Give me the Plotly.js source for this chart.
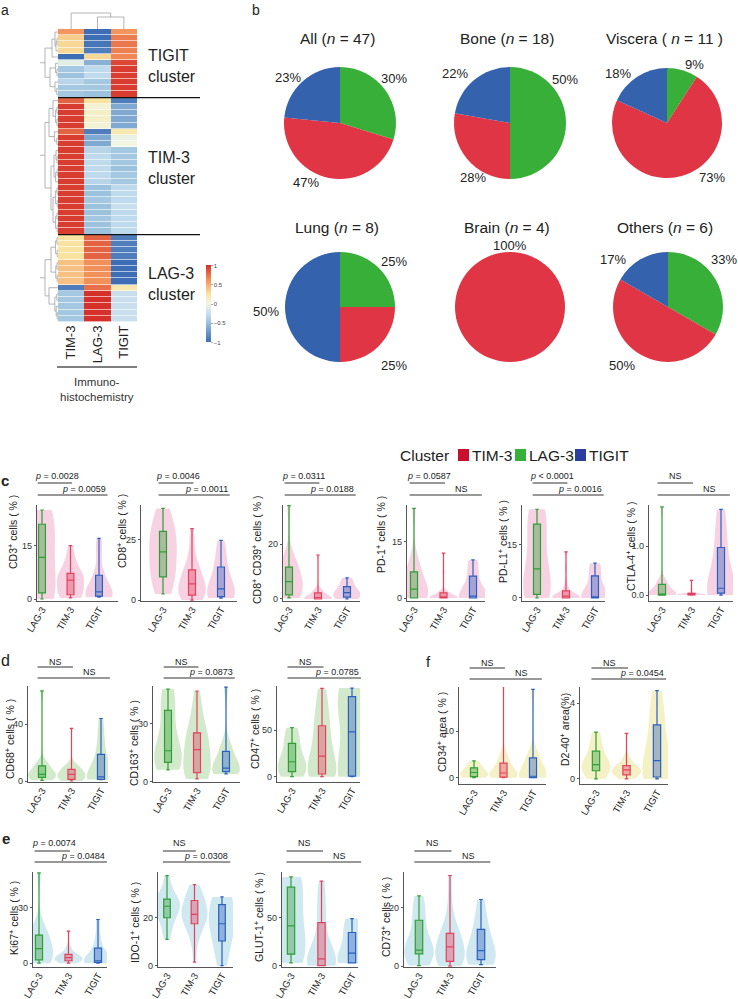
<!DOCTYPE html>
<html>
<head>
<meta charset="utf-8">
<script src="https://cdn.plot.ly/plotly-3.0.1.min.js"></script>
<style>
body { margin: 0; background: #fff; }
#fig { width: 738px; height: 999px; }
</style>
</head>
<body>
<div id="fig"></div>
<script>
// ---------- panel a : heatmap (rows top to bottom, cols TIM-3 / LAG-3 / TIGIT)
heat_cols = ["TIM-3", "LAG-3", "TIGIT"]
heat_z = [
  [0.6, -1, 0.6], [0.35, -1, 0.7], [0.3, -0.95, 0.72], [0.3, -0.9, 0.68], [-1, 0.3, 0.65],
  [-0.1, -0.6, 0.9], [-0.45, -0.3, 0.95], [-0.5, -0.3, 0.95], [-0.35, -0.45, 0.95], [-0.45, -0.45, 0.95],
  [-0.45, -0.5, 0.95],
  [0.8, 0.25, -0.9], [0.95, 0.05, -0.65], [0.95, 0.1, -0.65], [0.95, 0.1, -0.65], [0.95, 0.05, -0.65],
  [0.8, -0.9, 0.2], [0.95, -0.65, -0.05], [0.95, -0.65, 0], [0.95, -0.35, -0.45], [0.95, -0.3, -0.45],
  [0.95, -0.3, -0.45], [0.95, -0.3, -0.5], [0.95, -0.3, -0.45], [0.95, -0.35, -0.45], [0.95, -0.5, -0.3],
  [0.95, -0.5, -0.3], [0.95, -0.45, -0.3], [0.95, -0.5, -0.25], [0.95, -0.5, -0.3], [0.95, -0.45, -0.3],
  [0.95, -0.5, -0.3], [0.95, -0.5, -0.3],
  [0.25, 0.8, -0.9], [0.25, 0.8, -0.9], [0.25, 0.8, -0.9], [0.25, 0.8, -0.9], [0.4, 0.62, -1],
  [0.4, 0.62, -1], [0.4, 0.62, -1], [0.4, 0.62, -1], [-0.9, 0.75, 0.2], [-0.45, 1, -0.25],
  [-0.45, 1, -0.25], [-0.45, 1, -0.25], [-0.45, 1, -0.25], [-0.45, 1, -0.25]
]
cluster_names = ["TIGIT", "TIM-3", "LAG-3"]
cluster_ends = [10.5, 32.5]
// dendrogram trees: [height, left, right], leaves are row numbers
row_trees = [
  [6.5, [3, [1.5, 0, [1, [0.5, 1, 2], 3]], 4], [4, [1.2, 5, [0.5, 6, 7]], [1.5, 8, [0.6, 9, 10]]]],
  [6.5, [4.5, [2.5, 11, [1.2, [0.5, 12, 13], [0.5, 14, 15]]], [1.8, 16, [0.6, 17, 18]]],
        [3.5, [2, [1, 19, [0.5, 20, 21]], [1.2, [0.4, 22, 23], 24]],
              [2.5, [1.3, [0.5, 25, 26], [0.4, 27, 28]], [1.2, [0.5, 29, 30], [0.4, 31, 32]]]]],
  [6.5, [3.5, [1.3, [0.5, 33, 34], [0.4, 35, 36]], [1.1, [0.5, 37, 38], [0.4, 39, 40]]],
        [4.5, 41, [1.6, [0.6, 42, 43], [0.9, 44, [0.4, 45, 46]]]]]
]
col_tree = [16, 0, [12, 1, 2]]

// ---------- panel b : pies
pie_titles = ["All (<i>n</i> = 47)", "Bone (<i>n</i> = 18)", "Viscera ( <i>n</i> = 11 )",
              "Lung (<i>n</i> = 8)", "Brain (<i>n</i> = 4)", "Others (<i>n</i> = 6)"]
pie_labels = ["LAG-3", "TIM-3", "TIGIT"]
pie_lag3 = [14, 9, 1, 2, 0, 2]
pie_tim3 = [22, 5, 8, 2, 4, 3]
pie_tigit = [11, 4, 2, 4, 0, 1]
legend_labels = ["TIM-3", "LAG-3", "TIGIT"]

// ---------- panels c-f : violins
groups = ["LAG-3", "TIM-3", "TIGIT"]
cd3_lag = [0, 0.5, 1.2, 1.7, 4, 8, 11, 12.4, 15, 18, 21, 22.5, 24, 25]
cd3_tim = [0.3, 0.5, 0.7, 0.9, 1.0, 1.2, 2, 3, 3.8, 4.5, 5, 5.6, 6, 6.3, 6.6, 7, 7.2, 8.5, 9.5, 11, 13, 15]
cd3_tig = [0.5, 0.6, 0.8, 0.8, 1.2, 2, 3, 6, 6.9, 13, 17]
cd8_lag = [2.5, 5, 8, 9.6, 13, 16, 19, 21, 23, 26, 28.5, 31, 34, 38]
cd8_tim = [0, 0.5, 1, 1.3, 1.7, 2, 2.8, 3.5, 4.5, 5.5, 6.3, 7.1, 8, 9, 10, 11.2, 12.5, 14, 16, 19, 25, 29.6]
cd8_tig = [0.8, 1.1, 1.3, 1.7, 3, 4.6, 7, 11, 14.6, 19, 24.7]
cd39_lag = [0.4, 0.8, 1.2, 1.5, 3, 4.5, 5.8, 6.8, 8, 10, 11.6, 13, 15, 34]
cd39_tim = [0, 0, 0, 0, 0, 0, 0.1, 0.2, 0.3, 0.4, 0.5, 0.6, 0.9, 1.2, 1.5, 1.9, 2.2, 2.6, 3, 3.5, 4, 16]
cd39_tig = [0, 0.3, 0.6, 1, 1.6, 2.3, 3, 4, 4.7, 7, 7.7]
pd1_lag = [0, 0, 0, 0, 0.5, 1.2, 2, 2.8, 4, 5.5, 7, 8.5, 10.7, 24]
pd1_tim = [0, 0, 0, 0, 0, 0, 0, 0.1, 0.2, 0.2, 0.3, 0.3, 0.4, 0.6, 0.8, 1.1, 1.4, 1.6, 1.8, 2, 7, 12]
pd1_tig = [0, 0, 0, 0, 0.2, 0.5, 1.5, 4, 6.5, 9, 10.2]
pdl1_lag = [0, 0.3, 0.6, 1, 2.5, 5, 7.4, 9, 13, 17, 20.8, 22.5, 24, 25]
pdl1_tim = [0, 0, 0, 0, 0, 0, 0.1, 0.2, 0.3, 0.4, 0.5, 0.5, 0.7, 0.9, 1.2, 1.6, 2, 2.6, 3.3, 5, 8.5, 13]
pdl1_tig = [0, 0, 0, 0, 0.1, 0.3, 1.5, 4.5, 6.8, 8.5, 9.8]
ctla4_lag = [0, 0, 0, 0, 0, 0, 0.01, 0.03, 0.06, 0.12, 0.22, 0.26, 0.3, 1.8]
ctla4_tim = [0, 0, 0, 0, 0, 0.005, 0.008, 0.01, 0.012, 0.015, 0.018, 0.02, 0.022, 0.025, 0.028, 0.03, 0.035, 0.04, 0.05, 0.06, 0.12, 0.3]
ctla4_tig = [0, 0.02, 0.04, 0.04, 0.08, 0.14, 0.4, 0.8, 1.03, 1.4, 1.75]
cd68_lag = [0.5, 1, 2, 2.6, 3.5, 4.2, 4.5, 4.9, 6, 8, 10.6, 12, 13, 63.5]
cd68_tim = [0, 0.3, 0.6, 0.8, 1, 1.2, 2, 2.8, 3.5, 4, 4.5, 4.9, 5.5, 6.2, 7, 7.6, 8.2, 9, 10, 11, 11.7, 37]
cd68_tig = [1, 1.1, 1.2, 1.2, 2, 2.9, 5, 12, 21, 30, 44]
cd163_lag = [6.1, 8, 9, 10, 12, 14, 15, 17, 22, 30, 37, 41, 45, 48]
cd163_tim = [1.4, 2.5, 3.2, 3.8, 4.2, 4.7, 6, 8, 10, 13, 15.5, 17.7, 19, 20.5, 22, 23.5, 25.3, 28, 32, 36, 41, 47]
cd163_tig = [4, 4.8, 5, 5.8, 6.2, 7, 9, 14, 16.3, 19.5, 49]
cd47_lag = [0, 2, 4, 5.4, 8, 11, 14, 18, 22, 28, 35.7, 42, 48, 52.5]
cd47_tim = [0, 0.5, 1, 1.8, 2.4, 2.9, 4, 6, 9, 13, 18, 26, 32, 38, 44, 50, 54.6, 62, 70, 78, 87, 94.6]
cd47_tig = [0, 0, 0, 2, 15, 48, 70, 82, 87, 91, 95]
cd34_lag = [0, 0.05, 0.1, 0.2, 0.5, 0.8, 1, 1.2, 1.5, 1.8, 2.1, 2.6, 3.1, 3.6]
cd34_tim = [0, 0, 0.05, 0.05, 0.1, 0.1, 0.3, 0.5, 0.7, 0.8, 0.9, 1.1, 1.4, 1.8, 2.2, 2.7, 3.1, 3.6, 4.2, 4.9, 5.5, 19.7]
cd34_tig = [0, 0, 0, 0, 0.1, 0.3, 1, 3.5, 4.5, 4.6, 19]
d240_lag = [0, 0.2, 0.35, 0.43, 0.55, 0.65, 0.72, 0.78, 0.9, 1.2, 1.46, 1.8, 2.1, 2.47]
d240_tim = [0, 0.05, 0.1, 0.15, 0.18, 0.21, 0.28, 0.35, 0.4, 0.44, 0.47, 0.49, 0.52, 0.56, 0.6, 0.65, 0.7, 0.78, 0.9, 1.05, 1.2, 2.4]
d240_tig = [0, 0.05, 0.08, 0.16, 0.5, 0.96, 1.5, 2.4, 3, 3.8, 4.66]
ki67_lag = [0, 0.6, 1.2, 1.8, 3, 5, 7, 8.8, 10.5, 13, 15.2, 17.5, 19.7, 49]
ki67_tim = [0, 0.3, 0.6, 0.9, 1.1, 1.3, 1.7, 2, 2.3, 2.6, 2.9, 3.1, 3.4, 3.7, 4.1, 4.5, 4.8, 5.6, 6.5, 7.8, 9.3, 17.4]
ki67_tig = [0, 0.2, 0.3, 0.7, 1, 1.3, 3, 6, 8.8, 14.7, 23.7]
ido1_lag = [11, 15, 18, 20, 22, 23.5, 24.3, 25.3, 26, 27, 27.8, 29.5, 32.5, 37.6]
ido1_tim = [1.5, 9.4, 12, 14, 16, 17.5, 18.5, 19.5, 20.3, 20.8, 21.2, 21.6, 22.5, 23.5, 24.5, 26, 27.2, 28, 29, 30.5, 32, 33.8]
ido1_tig = [0, 5, 9, 14.2, 16, 17.5, 19, 24, 26, 28.2, 28.7]
glut1_lag = [2.8, 6, 9, 12, 20, 30, 38, 44.8, 55, 68, 81.7, 85, 89, 92.4]
glut1_tim = [0, 0, 0, 0, 0, 0, 1, 2, 3.5, 5, 6.2, 7.8, 10, 14, 20, 30, 44.8, 52, 60, 70, 80, 88]
glut1_tig = [2.8, 2.8, 2.8, 2.8, 6, 13, 20, 30, 36, 45, 49]
cd73_lag = [0.2, 2, 3.5, 4.2, 4.8, 5.2, 5.4, 5.6, 8, 12, 15.7, 18.5, 21, 24]
cd73_tim = [0, 0.5, 0.9, 1.2, 1.4, 1.6, 2.5, 3.5, 4.5, 5.5, 6.2, 7, 8, 9, 9.8, 10.5, 11.2, 13, 15, 18, 24.4, 31]
cd73_tig = [0.5, 1.2, 2, 2.8, 4, 5.3, 7, 11, 13.1, 17, 22.8]

panel_data = [
  [cd3_lag, cd3_tim, cd3_tig], [cd8_lag, cd8_tim, cd8_tig], [cd39_lag, cd39_tim, cd39_tig],
  [pd1_lag, pd1_tim, pd1_tig], [pdl1_lag, pdl1_tim, pdl1_tig], [ctla4_lag, ctla4_tim, ctla4_tig],
  [cd68_lag, cd68_tim, cd68_tig], [cd163_lag, cd163_tim, cd163_tig], [cd47_lag, cd47_tim, cd47_tig],
  [cd34_lag, cd34_tim, cd34_tig], [d240_lag, d240_tim, d240_tig],
  [ki67_lag, ki67_tim, ki67_tig], [ido1_lag, ido1_tim, ido1_tig], [glut1_lag, glut1_tim, glut1_tig],
  [cd73_lag, cd73_tim, cd73_tig]
]
panel_titles = ["CD3<sup>+</sup> cells ( % )", "CD8<sup>+</sup> cells ( % )", "CD8<sup>+</sup> CD39<sup>+</sup> cells ( % )",
  "PD-1<sup>+</sup> cells ( % )", "PD-L1<sup>+</sup> cells ( % )", "CTLA-4<sup>+</sup> cells ( % )",
  "CD68<sup>+</sup> cells ( % )", "CD163<sup>+</sup> cells ( % )", "CD47<sup>+</sup> cells ( % )",
  "CD34<sup>+</sup> area ( % )", "D2-40<sup>+</sup> area(%)",
  "Ki67<sup>+</sup> cells ( % )", "IDO-1<sup>+</sup> cells ( % )", "GLUT-1<sup>+</sup> cells ( % )", "CD73<sup>+</sup> cells ( % )"]
panel_ticks = [[0, 15], [0, 25], [0, 20], [0, 15], [0, 15], [0, 1], [0, 40], [0, 30], [0, 50], [0, 10], [0, 4],
  [0, 30], [0, 20], [0, 50], [0, 20]]
stat_short = ["p = 0.0028", "p = 0.0046", "p = 0.0311", "p = 0.0587", "p < 0.0001", "NS",
  "NS", "NS", "NS", "NS", "NS", "p = 0.0074", "NS", "NS", "NS"]
stat_long = ["p = 0.0059", "p = 0.0011", "p = 0.0188", "NS", "p = 0.0016", "NS",
  "NS", "p = 0.0873", "p = 0.0785", "NS", "p = 0.0454", "p = 0.0484", "p = 0.0308", "NS", "NS"]

// ---------- geometry and styles (pixels)
W = 738
H = 999
function px(v) { return v / W }
function py(v) { return 1 - v / H }
FONT = "Liberation Sans, Arial, sans-serif"
group_line = ["#2f9e36", "#e2425e", "#2b5fc0"]
group_fill = ["rgba(47,158,54,0.4)", "rgba(226,66,94,0.4)", "rgba(43,95,192,0.4)"]
pie_colors = {"LAG-3": "#38af38", "TIM-3": "#e03545", "TIGIT": "#3462ad"}
rows = {
  c: {t1: 476, l1: 483, t2: 489, l2: 495, top: 505, bot: 601, fill: "#f7d2e3"},
  d: {t1: 662, l1: 667, t2: 672, l2: 678, top: 686, bot: 782, fill: "#d2eacb"},
  f: {t1: 663, l1: 668, t2: 673, l2: 679, top: 687, bot: 784, fill: "#f5f1c6"},
  e: {t1: 843, l1: 851, t2: 856, l2: 862, top: 872, bot: 967, fill: "#d0e8f0"}
}
// row, y-axis x, axis end, first category x, category step, y range, title offset, title centre y
panel_pos = [
  ["c", 37, 118, 42, 28.5, [-0.56, 26.4], 25, 532],
  ["c", 141, 237, 163, 29, [-0.4, 39.4], 20, 531],
  ["c", 283, 360, 289, 29, [-0.73, 34.2], 27, 550],
  ["c", 407, 485, 414, 29.5, [-0.8, 24.9], 27, 535],
  ["c", 522, 605, 537, 29, [-0.85, 26.2], 20, 542],
  ["c", 649, 733, 662, 29.5, [-0.12, 1.84], 19, 546],
  ["d", 28, 108, 42, 29.5, [-0.7, 66.9], 19, 739],
  ["d", 153, 240, 168, 29, [-0.2, 49.6], 20, 743],
  ["d", 277, 360, 292, 30, [-5.7, 97.2], 23, 729],
  ["f", 459, 546, 474, 29.5, [-1.37, 19.5], 18, 732],
  ["f", 580, 668, 596, 30.5, [-0.27, 4.85], 16, 730],
  ["e", 33, 107, 39, 29.5, [-2.1, 49.5], 20, 918],
  ["e", 158, 233, 167, 27.5, [-0.55, 39.1], 24, 923],
  ["e", 282, 358, 291, 30.5, [-1.4, 97.5], 24, 917],
  ["e", 404, 496, 419, 31, [-0.3, 32.2], 19, 917]
]

traces = []
annotations = []
shapes = []
layout = {
  width: W, height: H, margin: {l: 0, r: 0, t: 0, b: 0},
  paper_bgcolor: "#fff", plot_bgcolor: "rgba(0,0,0,0)",
  font: {family: FONT, color: "#222"}, showlegend: false,
  violinmode: "overlay", boxmode: "overlay"
}

function note(text, x, y, size, opts) {
  var a = {text: text, x: x, y: y, xref: "paper", yref: "paper", showarrow: false,
           font: {size: size, family: FONT, color: "#222"}, xanchor: "center", yanchor: "middle"}
  for (var k in (opts || {})) a[k] = opts[k]
  annotations.push(a)
}

// ---------- heatmap
rowIdx = heat_z.map(function(r, i) { return i })
traces.push({
  type: "heatmap", z: heat_z, x: [0, 1, 2], y: rowIdx, xaxis: "x", yaxis: "y",
  zmin: -1, zmax: 1, ygap: 0.6, hoverinfo: "skip",
  colorscale: [[0, "#3d6db4"], [0.25, "#9cc2de"], [0.36, "#c4dcee"], [0.5, "#f3f6e2"],
               [0.62, "#f9e5a2"], [0.8, "#f3955c"], [1, "#d5302a"]],
  colorbar: {x: px(206), xanchor: "left", y: py(304), yanchor: "middle", len: 77 / H, lenmode: "fraction",
             thickness: 4.5, outlinewidth: 0, tickvals: [-1, -0.5, 0, 0.5, 1], ticks: "outside", ticklen: 2,
             tickcolor: "#aaa", tickfont: {size: 6, color: "#444"}, xpad: 0, ypad: 0}
})
layout.xaxis = {domain: [px(58), px(137)], anchor: "y", range: [-0.5, 2.5], tickvals: [0, 1, 2], ticktext: heat_cols,
  tickangle: -90, ticks: "", showline: false, showgrid: false, zeroline: false,
  tickfont: {size: 13, color: "#222"}, fixedrange: true}
layout.yaxis = {domain: [py(322), py(29)], anchor: "x", range: [46.5, -0.5], visible: false, fixedrange: true}
layout.xaxis2 = {domain: [px(38), px(58)], anchor: "y", range: [10, 0], visible: false}
layout.yaxis2 = {domain: [py(29), py(12)], anchor: "x", range: [0, 17], visible: false}

function walk(node, segs) {
  if (typeof node === "number") return {p: node, h: 0}
  var a = walk(node[1], segs), b = walk(node[2], segs), h = node[0]
  segs.push([a.h, a.p, h, a.p], [b.h, b.p, h, b.p], [h, a.p, h, b.p])
  return {p: (a.p + b.p) / 2, h: h}
}
rsegs = []
row_trees.forEach(function(t) {
  var r = walk(t, rsegs)
  rsegs.push([r.h, r.p, 9, r.p])
})
dx = []; dy = []
rsegs.forEach(function(s) { dx.push(s[0], s[2], null); dy.push(s[1], s[3], null) })
traces.push({type: "scatter", mode: "lines", x: dx, y: dy, xaxis: "x2", yaxis: "y",
  line: {color: "#a2a2a2", width: 0.8}, hoverinfo: "skip"})
csegs = []
walk(col_tree, csegs)
cx = []; cy = []
csegs.forEach(function(s) { cx.push(s[1], s[3], null); cy.push(s[0], s[2], null) })
traces.push({type: "scatter", mode: "lines", x: cx, y: cy, xaxis: "x", yaxis: "y2",
  line: {color: "#a2a2a2", width: 0.8}, hoverinfo: "skip"})

cluster_ends.forEach(function(yv) {
  shapes.push({type: "line", xref: "paper", yref: "y", x0: px(58), x1: px(200), y0: yv, y1: yv,
    line: {color: "#111", width: 1.3}})
})
clusterY = [66, 168, 284]
cluster_names.forEach(function(n, i) {
  note(n + "<br>cluster", px(146), py(clusterY[i]), 16, {xanchor: "left", align: "left"})
})
shapes.push({type: "line", xref: "paper", yref: "paper", x0: px(57), x1: px(137), y0: py(367), y1: py(367),
  line: {color: "#555", width: 1.5}})
note("Immuno-<br>histochemistry", px(97), py(389), 11.5, {font: {size: 11.5, family: FONT, color: "#333"}})

// ---------- pies
pie_centers = [[340, 123], [510, 123], [667, 123], [340, 307], [510, 307], [668, 307]]
pie_r = [56, 56, 55, 55, 55, 55]
// label centres for LAG-3, TIM-3, TIGIT slices
pie_text_pos = [
  [[394, 78], [306, 182], [288, 77]],
  [[565, 79], [473, 178], [455, 73]],
  [[694, 65], [712, 177], [618, 73]],
  [[394, 261], [394, 366], [266, 311]],
  [null, [510, 245], null],
  [[724, 259], [622, 366], [613, 259]]
]
pie_titles.forEach(function(t, i) {
  var vals = [pie_lag3[i], pie_tim3[i], pie_tigit[i]]
  var total = vals.reduce(function(a, b) { return a + b }, 0)
  var labs = [], v = [], cols = []
  vals.forEach(function(val, j) {
    if (val > 0) {
      labs.push(pie_labels[j]); v.push(val); cols.push(pie_colors[pie_labels[j]])
      var tp = pie_text_pos[i][j]
      note(Math.round(val / total * 100) + "%", px(tp[0]), py(tp[1]), 13)
    }
  })
  var c = pie_centers[i], r = pie_r[i]
  traces.push({
    type: "pie", labels: labs, values: v, sort: false, direction: "clockwise", rotation: 0,
    marker: {colors: cols, line: {width: 0}}, textinfo: "none",
    domain: {x: [px(c[0] - r), px(c[0] + r)], y: [py(c[1] + r), py(c[1] - r)]},
    hoverinfo: "skip", showlegend: false
  })
  note(t, px(c[0] - 3), py(i < 3 ? 38 : 227), 15.5)
})
// cluster legend
legendY = 455
note("Cluster", px(398), py(legendY), 15.5, {xanchor: "left"})
legSq = [458, 515, 575]
legCol = ["#c8102e", "#38af38", "#2b3d9e"]
legend_labels.forEach(function(l, i) {
  shapes.push({type: "rect", xref: "paper", yref: "paper", x0: px(legSq[i]), x1: px(legSq[i] + 11),
    y0: py(legendY + 6), y1: py(legendY - 6), line: {width: 0}, fillcolor: legCol[i]})
  note(l, px(legSq[i] + 12), py(legendY), 15.5, {xanchor: "left"})
})

// ---------- violin panels
function fmt(s) { return s === "NS" ? "NS" : "<i>p</i> " + s.slice(2).replace("<", "&lt;") }
panel_pos.forEach(function(p, i) {
  var k = i + 3, row = rows[p[0]]
  var lo = -(p[3] - p[1]) / p[4]
  var hi = lo + (p[2] - p[1]) / p[4]
  function catX(v) { return px(p[3] + v * p[4]) }
  layout["xaxis" + k] = {domain: [px(p[1]), px(p[2])], anchor: "y" + k, type: "category",
    categoryorder: "array", categoryarray: groups, range: [lo, hi], tickangle: -60,
    showline: true, linecolor: "#555", linewidth: 1.3, ticks: "", ticklabelstandoff: -2,
    showgrid: false, zeroline: false, tickfont: {size: 9.5, color: "#222"}, fixedrange: true}
  var tv = panel_ticks[i]
  layout["yaxis" + k] = {domain: [py(row.bot), py(row.top)], anchor: "x" + k, range: p[5],
    tickvals: tv, ticktext: tv.map(function(t) { return i === 5 ? t.toFixed(1) : String(t) }),
    showline: true, linecolor: "#555", linewidth: 1.3, ticks: "outside", ticklen: 2, tickcolor: "#555",
    showgrid: false, zeroline: false, tickfont: {size: 9, color: "#333"}, fixedrange: true}
  panel_data[i].forEach(function(vals, g) {
    traces.push({type: "violin", xaxis: "x" + k, yaxis: "y" + k, y: vals, x0: groups[g], name: groups[g],
      scalegroup: "p" + k, scalemode: "width", width: 0.95, spanmode: "hard", points: false,
      fillcolor: row.fill, line: {width: 0, color: row.fill}, box: {visible: false},
      meanline: {visible: false}, hoverinfo: "skip", showlegend: false})
  })
  panel_data[i].forEach(function(vals, g) {
    traces.push({type: "box", xaxis: "x" + k, yaxis: "y" + k, y: vals, x0: groups[g], name: groups[g],
      boxpoints: false, width: 0.24, whiskerwidth: 0.5, fillcolor: group_fill[g],
      line: {color: group_line[g], width: 1.2}, hoverinfo: "skip", showlegend: false})
  })
  note(panel_titles[i], px(p[1] - p[6]), py(p[7]), 10.5, {textangle: -90})
  // significance brackets
  ;[[row.l1, 1.05], [row.l2, 2.3]].forEach(function(b) {
    shapes.push({type: "line", xref: "paper", yref: "paper", x0: catX(-0.15), x1: catX(b[1]),
      y0: py(b[0]), y1: py(b[0]), line: {color: "#333", width: 1}})
  })
  var s1 = stat_short[i], s2 = stat_long[i]
  note(fmt(s1), s1 === "NS" ? catX(0.45) : catX(-0.3), py(row.t1), 9,
    {xanchor: s1 === "NS" ? "center" : "left"})
  note(fmt(s2), s2 === "NS" ? catX(1.6) : catX(2.3), py(row.t2), 9,
    {xanchor: s2 === "NS" ? "center" : "right"})
})

// panel letters
note("a", px(5), 1, 14, {yanchor: "top"})
note("b", px(256), 1, 14, {yanchor: "top"})
note("<b>c</b>", px(5), py(481), 15)
note("d", px(5), py(660), 16)
note("<b>e</b>", px(6), py(838), 15)
note("f", px(428), py(661), 15)

layout.annotations = annotations
layout.shapes = shapes
Plotly.newPlot("fig", traces, layout, {staticPlot: true})
</script>
</body>
</html>
